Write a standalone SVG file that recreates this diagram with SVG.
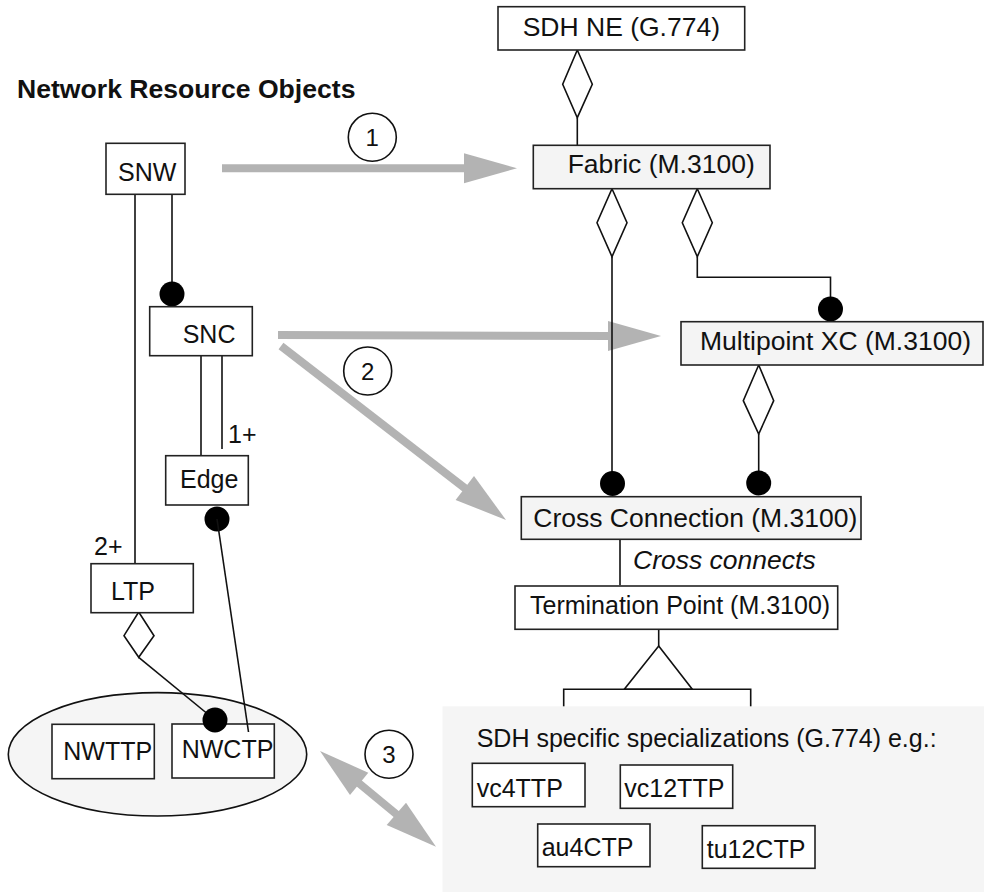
<svg xmlns="http://www.w3.org/2000/svg" width="984" height="892" viewBox="0 0 984 892">
<style>
text{font-family:"Liberation Sans",Arial,sans-serif;font-size:25px;fill:#111}
.title{font-weight:bold;font-size:26.6px}
.big{font-size:26.5px}
.it{font-style:italic;font-size:26.5px}
.box{fill:#fff;stroke:#222;stroke-width:1.6}
.gbox{fill:#f4f4f4;stroke:#222;stroke-width:1.6}
.ln{fill:none;stroke:#111;stroke-width:1.6}
.dia{fill:#fff;stroke:#111;stroke-width:1.6}
.dot{fill:#000}
.garrow{fill:none;stroke:#b3b3b3;stroke-width:8}
.ghead{fill:#b3b3b3}
.num{fill:#fff;stroke:#111;stroke-width:1.6}
.numt{font-size:24px;text-anchor:middle}
</style>
<rect width="984" height="892" fill="#fff"/>
<text class="title" x="17" y="98">Network Resource Objects</text>

<g id="NetworkTPs">
  <ellipse cx="157.5" cy="754.3" rx="149.2" ry="61.7" fill="#f5f5f5" stroke="#111" stroke-width="1.6"/>
  <g id="NWTTP">
    <rect class="box" x="52" y="724.3" width="102.3" height="54.4"/>
    <text x="63.3" y="760">NWTTP</text>
  </g>
  <g id="NWCTP">
    <rect class="box" x="172" y="724" width="102.3" height="54"/>
    <text x="181.7" y="758.3">NWCTP</text>
  </g>
</g>

<g id="connectors">
  <!-- Gray mapping arrows -->
  <line class="garrow" x1="222" y1="168.3" x2="466" y2="168.3"/>
  <polygon class="ghead" points="517,168.3 464,153.3 464,183.3"/>
  <line class="garrow" x1="278" y1="335" x2="610" y2="336"/>
  <polygon class="ghead" points="661,336 608,321 608,351"/>
  <line class="garrow" x1="281" y1="346" x2="466" y2="489"/>
  <polygon class="ghead" points="506,520 455.6,499.9 474,476"/>
  <line class="garrow" x1="355" y1="780" x2="401" y2="818"/>
  <polygon class="ghead" points="320,751 350,795 368.3,772.7"/>
  <polygon class="ghead" points="436,846.7 386.7,825 406,802.7"/>
  <circle class="num" cx="372.3" cy="137.3" r="24"/>
  <text class="numt" x="372.3" y="146">1</text>
  <circle class="num" cx="367.7" cy="371" r="24"/>
  <text class="numt" x="367.7" y="380">2</text>
  <circle class="num" cx="389" cy="754.3" r="24"/>
  <text class="numt" x="389" y="763">3</text>

  <!-- SNW to LTP -->
  <line class="ln" x1="135" y1="194" x2="135" y2="564"/>
  <!-- SNW to SNC -->
  <line class="ln" x1="172" y1="194" x2="172" y2="294"/>
  <circle class="dot" cx="172" cy="294" r="12.5"/>
  <!-- SNC to Edge -->
  <line class="ln" x1="201" y1="356" x2="201" y2="456"/>
  <line class="ln" x1="222" y1="355" x2="222" y2="449"/>
  <text x="228" y="443">1+</text>
  <text x="94" y="555">2+</text>
  <!-- Edge to NWCTP -->
  <circle class="dot" cx="217" cy="519" r="12.5"/>
  <line class="ln" x1="217" y1="519" x2="248.5" y2="732"/>
  <!-- LTP aggregation to NWCTP -->
  <polygon class="dia" points="138.7,612 154,635.7 138.7,657.3 124,635.7"/>
  <line class="ln" x1="138.7" y1="657.3" x2="215" y2="720"/>
  <circle class="dot" cx="215" cy="720" r="12.5"/>
  <!-- SDH NE to Fabric -->
  <polygon class="dia" points="577.3,50 592.3,84.3 577.3,117.7 562.7,84.3"/>
  <line class="ln" x1="577.3" y1="117.7" x2="577.3" y2="145.3"/>
  <!-- Fabric to Cross Connection -->
  <polygon class="dia" points="612,188.7 627,222.7 612,256.7 597,222.7"/>
  <line class="ln" x1="612" y1="256.7" x2="612" y2="483"/>
  <circle class="dot" cx="612.5" cy="483.5" r="12.5"/>
  <!-- Fabric to Multipoint XC -->
  <polygon class="dia" points="697.3,188.7 712.3,222.7 697.3,256.7 682.3,222.7"/>
  <polyline class="ln" points="697.3,256.7 697.3,277.3 830.5,277.3 830.5,309"/>
  <circle class="dot" cx="830.5" cy="309" r="12.5"/>
  <!-- Multipoint XC to Cross Connection -->
  <polygon class="dia" points="758.7,365 773.7,400.7 758.7,434 743.3,400.7"/>
  <line class="ln" x1="758.7" y1="434" x2="758.7" y2="483"/>
  <circle class="dot" cx="758.7" cy="483" r="12.5"/>
  <!-- Cross connects -->
  <line class="ln" x1="620" y1="539.3" x2="620" y2="585.3"/>
  <text class="it" x="633" y="569">Cross connects</text>
  <!-- Inheritance from Termination Point -->
  <line class="ln" x1="658.7" y1="629.3" x2="658.7" y2="646"/>
  <polygon class="dia" points="658.7,646 692.3,689.3 624.3,689.3"/>
  <polyline class="ln" points="563.7,720 563.7,689.3 750.7,689.3 750.7,720"/>
</g>

<g id="SNW">
  <rect class="box" x="106" y="143.3" width="79" height="51"/>
  <text x="118" y="181">SNW</text>
</g>
<g id="SNC">
  <rect class="box" x="149.7" y="306.7" width="102.6" height="49"/>
  <text x="182.7" y="343">SNC</text>
</g>
<g id="Edge">
  <rect class="box" x="165.7" y="455.7" width="82.6" height="49.3"/>
  <text x="180" y="488.3">Edge</text>
</g>
<g id="LTP">
  <rect class="box" x="91" y="563.7" width="102.3" height="49"/>
  <text x="111" y="600">LTP</text>
</g>

<g id="SDHNE">
  <rect class="box" x="498" y="6.7" width="246.7" height="43.3"/>
  <text class="big" x="522.7" y="35.7">SDH NE (G.774)</text>
</g>
<g id="Fabric">
  <rect class="gbox" x="533.3" y="145.3" width="236.7" height="43.4"/>
  <text class="big" x="567.7" y="173.3">Fabric (M.3100)</text>
</g>
<g id="MultipointXC">
  <rect class="gbox" x="681" y="321.7" width="302" height="43.3"/>
  <text class="big" x="700" y="350">Multipoint XC (M.3100)</text>
</g>
<g id="CrossConnection">
  <rect class="gbox" x="521.3" y="496.7" width="339.7" height="42.6"/>
  <text class="big" x="533.3" y="526.7">Cross Connection (M.3100)</text>
</g>
<g id="TerminationPoint">
  <rect class="box" x="515" y="586" width="322.7" height="43.3"/>
  <text x="530" y="614.3">Termination Point (M.3100)</text>
</g>

<g id="SDHSpecializations">
  <rect x="442.5" y="706.3" width="541.5" height="185.7" fill="#f5f5f5"/>
  <text x="476.7" y="746.7">SDH specific specializations (G.774) e.g.:</text>
  <g id="vc4TTP">
    <rect class="box" x="472.3" y="763.3" width="112.7" height="43.4"/>
    <text x="476.7" y="796.7">vc4TTP</text>
  </g>
  <g id="vc12TTP">
    <rect class="box" x="620.3" y="765" width="112.4" height="43.3"/>
    <text x="624.3" y="797.3">vc12TTP</text>
  </g>
  <g id="au4CTP">
    <rect class="box" x="537.7" y="824" width="112.3" height="42.7"/>
    <text x="541.7" y="856">au4CTP</text>
  </g>
  <g id="tu12CTP">
    <rect class="box" x="702.3" y="825.7" width="112.7" height="42.6"/>
    <text x="706.7" y="857.7">tu12CTP</text>
  </g>
</g>
</svg>
